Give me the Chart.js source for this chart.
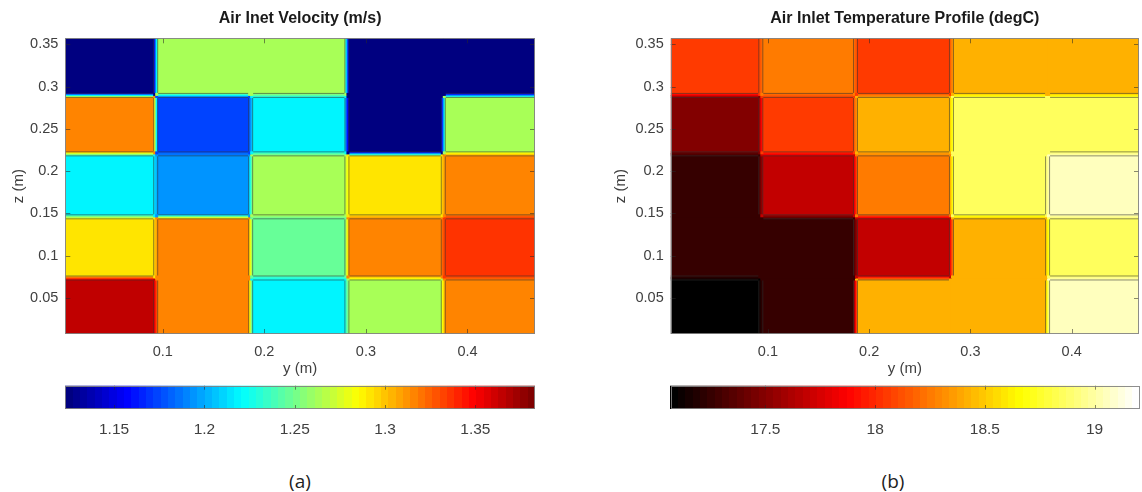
<!DOCTYPE html>
<html><head><meta charset="utf-8">
<script src="https://cdn.jsdelivr.net/npm/chart.js@4.4.1/dist/chart.umd.min.js"></script>
<style>
html,body{margin:0;padding:0;background:#fff;}
body{width:1142px;height:492px;position:relative;overflow:hidden;}
canvas{position:absolute;}
.cap{position:absolute;font-family:'Open Sans',sans-serif;font-size:19px;color:#222;transform:translate(-50%,-50%);white-space:nowrap;}
</style></head>
<body>
<canvas id="mainA" width="560" height="390" style="left:0;top:0"></canvas>
<canvas id="barA" width="560" height="70" style="left:0;top:375px"></canvas>
<canvas id="mainB" width="582" height="390" style="left:560px;top:0"></canvas>
<canvas id="barB" width="582" height="70" style="left:560px;top:375px"></canvas>
<div class="cap" style="left:300px;top:481px">(a)</div>
<div class="cap" style="left:893px;top:481px">(b)</div>
<script>
// ---- data ----
const yEdges = [0.004, 0.093, 0.1865, 0.2813, 0.3762, 0.4665];   // y (m) cell bounds
const zEdges = [0.0075, 0.0737, 0.146, 0.2204, 0.2895, 0.357];    // z (m) cell bounds
// rows from bottom (z low) to top
const velocity = [
  [1.3635, 1.315, 1.217, 1.265, 1.315],
  [1.290, 1.315, 1.245, 1.315, 1.338],
  [1.217, 1.196, 1.265, 1.290, 1.315],
  [1.315, 1.172, 1.217, 1.125, 1.265],
  [1.125, 1.265, 1.265, 1.125, 1.125]
];
const temperature = [
  [17.10, 17.26, 18.42, 18.42, 19.06],
  [17.26, 17.26, 17.67, 18.42, 18.84],
  [17.26, 17.67, 18.25, 18.84, 19.06],
  [17.47, 18.07, 18.42, 18.84, 18.84],
  [18.07, 18.25, 18.07, 18.42, 18.42]
];
const velRange = [1.123, 1.383];
const tempRange = [17.068, 19.206];
const yTicks = [0.1, 0.2, 0.3, 0.4];
const zTicks = [0.05, 0.1, 0.15, 0.2, 0.25, 0.3, 0.35];
const velTicks = [1.15, 1.2, 1.25, 1.3, 1.35];
const tempTicks = [17.5, 18, 18.5, 19];

// ---- colormaps ----
const clamp = v => Math.max(0, Math.min(1, v));
function jet(t){ t = Math.floor(clamp(t)*63.999)/63;
  return [clamp(1.5-Math.abs(4*t-3)), clamp(1.5-Math.abs(4*t-2)), clamp(1.5-Math.abs(4*t-1))]; }
function hot(t){ t = Math.floor(clamp(t)*63.999)/63;
  return [clamp(t/0.375), clamp((t-0.375)/0.375), clamp((t-0.75)/0.25)]; }
function rgb(c){ return `rgb(${Math.round(c[0]*255)},${Math.round(c[1]*255)},${Math.round(c[2]*255)})`; }
function colorFor(map, range, v){ return rgb(map((v-range[0])/(range[1]-range[0]))); }

Chart.defaults.font.family = "'Liberation Sans', Arial, Helvetica, sans-serif";
Chart.defaults.color = '#404040';

const heatPlugin = {
  id: 'heat',
  beforeDatasetsDraw(chart, args, o) {
    if (!o || !o.values) return;
    const {ctx, chartArea: a} = chart, x = chart.scales.x, y = chart.scales.y;
    const V = o.values, col = v => colorFor(o.cmap, o.range, v);
    ctx.save();
    ctx.beginPath(); ctx.rect(a.left, a.top, a.right-a.left, a.bottom-a.top); ctx.clip();
    const nR = V.length, nC = V[0].length;
    const X = i => x.getPixelForValue(yEdges[i]), Y = i => y.getPixelForValue(zEdges[i]);
    for (let r=0;r<nR;r++) for (let c=0;c<nC;c++){
      ctx.fillStyle = col(V[r][c]);
      const x0 = c===0 ? a.left : X(c), x1 = c===nC-1 ? a.right : X(c+1);
      const y1 = r===0 ? a.bottom : Y(r), y0 = r===nR-1 ? a.top : Y(r+1);
      ctx.fillRect(x0-0.5, y0-0.5, x1-x0+1, y1-y0+1);
    }
    const hw = 2.5;
    function band(v1, v2, horizontal, p, s0, s1){
      const g = horizontal ? ctx.createLinearGradient(0, p+hw, 0, p-hw) : ctx.createLinearGradient(p-hw, 0, p+hw, 0);
      const n = 6;
      for (let k=0;k<=n;k++){ g.addColorStop(k/n, col(v1 + (v2-v1)*k/n)); }
      ctx.fillStyle = g;
      if (horizontal) ctx.fillRect(s0, p-hw, s1-s0, 2*hw); else ctx.fillRect(p-hw, s0, 2*hw, s1-s0);
      ctx.strokeStyle = 'rgba(50,50,50,0.55)'; ctx.lineWidth = 1;
      ctx.beginPath();
      if (horizontal){ ctx.moveTo(s0, p-hw+0.5); ctx.lineTo(s1, p-hw+0.5); ctx.moveTo(s0, p+hw-0.5); ctx.lineTo(s1, p+hw-0.5); }
      else { ctx.moveTo(p-hw+0.5, s0); ctx.lineTo(p-hw+0.5, s1); ctx.moveTo(p+hw-0.5, s0); ctx.lineTo(p+hw-0.5, s1); }
      ctx.stroke();
    }
    for (let r=0;r<nR-1;r++) for (let c=0;c<nC;c++){
      if (V[r][c] !== V[r+1][c]) {
        const x0 = c===0 ? a.left : X(c)+hw, x1 = c===nC-1 ? a.right : X(c+1)-hw;
        band(V[r][c], V[r+1][c], true, Y(r+1), x0, x1);
      }
    }
    for (let r=0;r<nR;r++) for (let c=0;c<nC-1;c++){
      if (V[r][c] !== V[r][c+1]) {
        const y1 = r===0 ? a.bottom : Y(r)-hw, y0 = r===nR-1 ? a.top : Y(r+1)+hw;
        band(V[r][c], V[r][c+1], false, X(c+1), y0, y1);
      }
    }
    ctx.restore();
  },
  afterDraw(chart, args, o) {
    if (!o) return;
    const {ctx, chartArea: a} = chart;
    ctx.save();
    ctx.strokeStyle = 'rgba(40,40,40,0.55)'; ctx.lineWidth = 1;
    ctx.beginPath();
    const tl = o.tickLen || 5;
    const x = chart.scales.x;
    x.ticks.forEach(t => { const px = Math.round(x.getPixelForValue(t.value))+0.5;
      ctx.moveTo(px, a.bottom); ctx.lineTo(px, a.bottom-tl); ctx.moveTo(px, a.top); ctx.lineTo(px, a.top+tl); });
    if (o.values) { const y = chart.scales.y;
      y.ticks.forEach(t => { const py = Math.round(y.getPixelForValue(t.value))+0.5;
        ctx.moveTo(a.left, py); ctx.lineTo(a.left+tl, py); ctx.moveTo(a.right, py); ctx.lineTo(a.right-tl, py); }); }
    ctx.stroke();
    ctx.strokeStyle = 'rgba(130,130,130,0.9)';
    ctx.strokeRect(Math.round(a.left)+0.5, Math.round(a.top)+0.5, Math.round(a.right-a.left)-1, Math.round(a.bottom-a.top)-1);
    ctx.restore();
  }
};

const barPlugin = {
  id: 'cbar',
  beforeDatasetsDraw(chart, args, o) {
    if (!o || !o.cmap) return;
    const {ctx, chartArea: a} = chart, x = chart.scales.x;
    ctx.save();
    for (let px = Math.floor(a.left); px < a.right; px++) {
      ctx.fillStyle = colorFor(o.cmap, o.range, x.getValueForPixel(px+0.5));
      ctx.fillRect(px, a.top, 1, a.bottom-a.top);
    }
    ctx.restore();
  }
};

function fmt(v){ return String(+(+v).toFixed(3)); }

function mainChart(id, title, values, cmap, range, yWidth, yTitlePad, padRight) {
  return new Chart(document.getElementById(id), {
    type: 'scatter',
    data: { datasets: [{ data: [] }] },
    options: {
      responsive: false, animation: false,
      layout: { padding: { left: 0, right: padRight, top: 0, bottom: 0 } },
      plugins: {
        legend: { display: false }, tooltip: { enabled: false },
        title: { display: true, text: title, fullSize: false, color: '#1a1a1a',
          font: { size: 16, weight: 'bold' }, padding: { top: 9, bottom: 10.1 } },
        heat: { values, cmap, range, tickLen: 5 }
      },
      scales: {
        x: { type: 'linear', min: yEdges[0], max: yEdges[yEdges.length-1], z: 1,
          afterBuildTicks: s => { s.ticks = yTicks.map(v => ({ value: v })); },
          afterFit: s => { s.height = 56; },
          grid: { color: 'rgba(60,60,60,0.13)', drawTicks: false },
          border: { display: false },
          ticks: { callback: fmt, padding: 9, maxRotation: 0, font: { size: 14.5 }, color: '#404040' },
          title: { display: true, text: 'y (m)', color: '#404040', font: { size: 15 }, padding: { top: 0, bottom: 12 } } },
        y: { type: 'linear', min: zEdges[0], max: zEdges[zEdges.length-1], z: 1,
          afterBuildTicks: s => { s.ticks = zTicks.map(v => ({ value: v })); },
          afterFit: s => { s.width = yWidth; },
          grid: { color: 'rgba(60,60,60,0.13)', drawTicks: false },
          border: { display: false },
          ticks: { callback: fmt, padding: 7, font: { size: 14.5 }, color: '#404040' },
          title: { display: true, text: 'z (m)', color: '#404040', font: { size: 15 }, padding: { top: yTitlePad, bottom: 0 } } }
      }
    },
    plugins: [heatPlugin]
  });
}

function barChart(id, cmap, range, ticks, padLeft, padRight) {
  return new Chart(document.getElementById(id), {
    type: 'scatter',
    data: { datasets: [{ data: [] }] },
    options: {
      responsive: false, animation: false,
      layout: { padding: { left: padLeft, right: padRight, top: 10.7, bottom: 0 } },
      plugins: { legend: { display: false }, tooltip: { enabled: false }, cbar: { cmap, range }, heat: { tickLen: 4 } },
      scales: {
        x: { type: 'linear', min: range[0], max: range[1], z: 1,
          afterBuildTicks: s => { s.ticks = ticks.map(v => ({ value: v })); },
          afterFit: s => { s.height = 36; },
          grid: { display: false, drawTicks: false }, border: { display: false },
          ticks: { callback: fmt, padding: 11, maxRotation: 0, font: { size: 15.5 }, color: '#404040' } },
        y: { display: false, min: 0, max: 1 }
      }
    },
    plugins: [barPlugin, heatPlugin]
  });
}

mainChart('mainA', 'Air Inet Velocity (m/s)', velocity, jet, velRange, 65.3, 10, 25);
mainChart('mainB', 'Air Inlet Temperature Profile (degC)', temperature, hot, tempRange, 110.7, 52, 3);
barChart('barA', jet, velRange, velTicks, 65.3, 25);
barChart('barB', hot, tempRange, tempTicks, 110.6, 2.2);
</script>
</body></html>
